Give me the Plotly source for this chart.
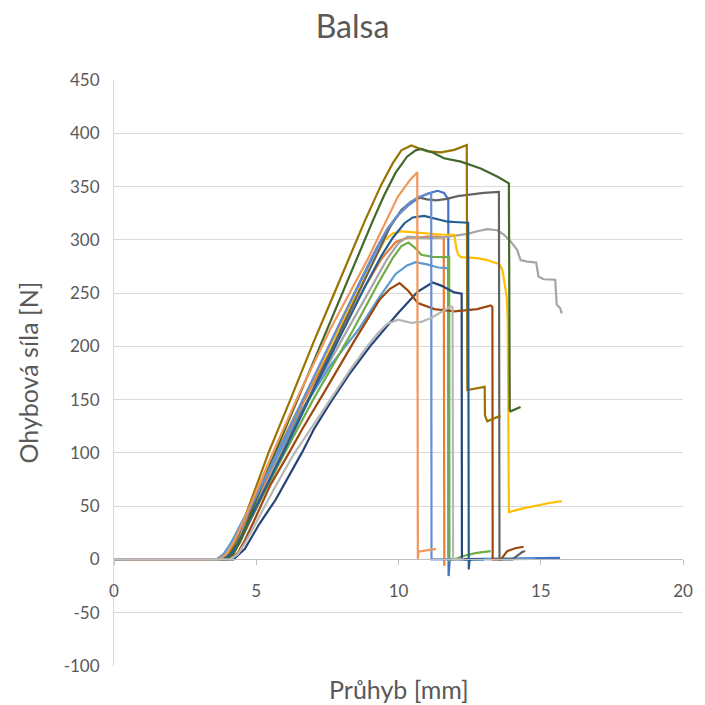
import plotly.graph_objects as go

# ---------------- data ----------------
x_s01 = [0, 3.75, 4.0, 4.25, 4.7, 5.8, 7.0, 8.0, 8.8, 9.3, 9.63, 9.98, 10.33, 10.68, 11.03, 11.38, 11.6, 11.75, 11.76, 11.8, 13.0, 14.5, 15.68]
y_s01 = [0, 0, 5, 15, 40, 100, 168, 225, 268, 295, 311, 323, 332, 339, 343.5, 346, 344, 338, -15.6, 0, 0.5, 1, 1.5]

x_s02 = [0, 3.75, 4.0, 4.25, 4.7, 5.5, 6.5, 7.3, 8.0, 8.8, 9.4, 9.9, 10.33, 10.7, 11.03, 11.4, 11.59, 11.61]
y_s02 = [0, 0, 5, 15, 40, 82, 140, 180, 215.6, 255, 282, 298, 302, 302, 303, 303, 302, -6]

x_s03 = [0, 3.8, 4.05, 4.3, 4.8, 5.6, 6.5, 7.4, 8.2, 9.0, 9.6, 10.0, 10.33, 10.7, 11.03, 11.5, 11.96, 12.43, 12.77, 13.12, 13.47, 13.7, 13.94, 14.17, 14.29, 14.52, 14.84, 14.92, 15.1, 15.51, 15.56, 15.68, 15.74]
y_s03 = [0, 0, 5, 15, 40, 85, 135, 177, 215.6, 254, 282, 297, 303, 302, 301.5, 302, 303.7, 305.6, 308, 310, 309, 305, 298.5, 290.6, 281, 279.6, 278.7, 265.6, 263, 262.5, 239, 236, 231]

x_s04 = [0, 3.7, 3.95, 4.2, 4.6, 5.3, 6.3, 7.0, 7.89, 8.7, 9.2, 9.52, 9.8, 10.1, 10.5, 11.0, 11.5, 11.96, 12.04, 12.1, 12.2, 12.77, 13.12, 13.36, 13.53, 13.65, 13.7, 13.8, 13.84, 13.87, 13.88, 14.3, 14.8, 15.3, 15.74]
y_s04 = [0, 0, 5, 14, 38, 80, 132, 169, 215.6, 258, 284, 300, 306, 308, 307, 306, 305, 304.7, 291, 286, 283.7, 282.8, 281, 278.7, 277.5, 272, 262.5, 247, 225, 45, 44.4, 47.5, 50.5, 53, 54.7]

x_s05 = [0, 3.6, 3.85, 4.1, 4.55, 5.5, 6.6, 7.6, 8.59, 9.3, 9.9, 10.3, 10.6, 11.0, 11.4, 11.67, 11.75, 11.76, 13.0, 14.8]
y_s05 = [0, 0, 5, 15, 38, 85, 140, 182, 215.6, 245, 268, 276, 279, 277, 274, 273.4, 273, 0, 0, 0.5]

x_s06 = [0, 3.9, 4.15, 4.4, 4.85, 5.9, 7.0, 8.41, 9.3, 9.8, 10.1, 10.35, 10.6, 10.8, 11.2, 11.78, 11.79, 11.85, 12.0, 12.25, 12.7, 13.24]
y_s06 = [0, 0, 5, 15, 40, 95, 150, 215.6, 260, 283, 294, 297.5, 292, 286, 284, 283.7, -2, 0, 0.5, 3, 6, 7.8]

x_s07 = [0, 4.2, 4.6, 5.1, 5.68, 6.6, 7.02, 7.6, 8.3, 9.0, 9.98, 10.68, 11.2, 11.5, 11.96, 12.22, 12.23, 12.6]
y_s07 = [0, 0, 10, 33, 56, 100, 122, 147, 175, 200, 231, 251.5, 260, 257, 250.6, 249.4, 0, 0]

x_s08 = [0, 4.1, 4.35, 4.6, 4.9, 5.5, 6.15, 6.61, 7.5, 8.4, 9.34, 9.7, 10.04, 10.35, 10.68, 11.26, 11.96, 12.77, 13.24, 13.3, 13.31, 13.6, 13.82, 14.1, 14.4]
y_s08 = [0, 0, 6, 18, 35, 70, 100, 122, 162, 203, 244, 254, 259.4, 252, 240.6, 235, 232.8, 235, 238.4, 237, 0, 0, 7.8, 10.5, 11.9]

x_s09 = [0, 3.9, 4.15, 4.4, 4.85, 5.9, 7.0, 8.0, 8.8, 9.3, 9.7, 10.1, 10.45, 10.75, 11.0, 11.32, 11.7, 12.08, 12.6, 13.0, 13.53, 13.55, 14.0, 14.35, 14.45]
y_s09 = [0, 0, 5, 15, 40, 98, 160, 217, 262, 290, 312, 328, 336, 339.5, 338, 337, 338.5, 341, 343, 344, 345, 0, 0, 7, 8]

x_s10 = [0, 3.8, 4.05, 4.3, 4.77, 5.43, 6.2, 7.0, 7.65, 8.24, 8.82, 9.4, 9.8, 10.1, 10.45, 10.8, 11.03, 11.5, 11.96, 12.4, 12.42, 13.03, 13.04, 13.12, 13.3, 13.59]
y_s10 = [0, 0, 5, 17, 52, 100, 150, 203, 244, 281, 318, 352, 372, 384, 388.5, 385, 383, 382, 384.4, 389, 159, 162, 135, 129.7, 132, 135]

x_s11 = [0, 3.85, 4.1, 4.35, 4.8, 5.95, 7.0, 8.0, 8.8, 9.4, 9.8, 10.21, 10.5, 10.9, 11.3, 11.73, 12.1, 12.45, 12.47, 12.5, 13.0]
y_s11 = [0, 0, 5, 15, 40, 100, 158, 212, 255, 285, 302, 315.6, 321, 322.5, 320, 317, 316.5, 316, -9.4, 0, 0]

x_s12 = [0, 3.95, 4.2, 4.45, 4.8, 5.5, 6.5, 7.48, 8.3, 9.11, 9.5, 9.9, 10.3, 10.6, 10.8, 11.2, 11.6, 12.19, 12.89, 13.5, 13.88, 13.91, 13.94, 14.29]
y_s12 = [0, 0, 5, 18, 43, 90, 153, 215.6, 267, 318.75, 342, 363, 378, 384, 385.3, 382, 376.5, 373.4, 367, 359, 353, 140, 139, 143]

x_s13 = [0, 3.7, 3.95, 4.2, 4.65, 5.7, 6.9, 7.9, 8.7, 9.2, 9.6, 9.98, 10.33, 10.68, 11.0, 11.15, 11.16, 11.5, 11.9]
y_s13 = [0, 0, 5, 15, 40, 98, 165, 221, 264, 291, 310, 323, 333, 340, 343, 344, 0, 0, 0]

x_s14 = [0, 3.7, 3.95, 4.2, 4.7, 5.5, 6.5, 7.59, 8.94, 9.58, 9.98, 10.4, 10.66, 10.68, 10.7, 11.32]
y_s14 = [0, 0, 5, 16, 45, 95, 155, 215.6, 283, 318.75, 340.6, 356, 363.4, 0, 7.2, 10]

x_s15 = [0, 4.1, 4.35, 4.6, 5.0, 5.6, 6.3, 6.9, 7.6, 8.3, 8.9, 9.28, 9.6, 9.98, 10.45, 10.8, 11.15, 11.5, 11.84, 11.9, 11.92, 12.3]
y_s15 = [0, 0, 5, 15, 35, 65, 98, 122, 150, 178, 200, 212.5, 221, 225, 222, 223, 226.6, 232, 237.5, 237, 0, 0]

series_x = [x_s01, x_s02, x_s03, x_s04, x_s05, x_s06, x_s07, x_s08,
            x_s09, x_s10, x_s11, x_s12, x_s13, x_s14, x_s15]
series_y = [y_s01, y_s02, y_s03, y_s04, y_s05, y_s06, y_s07, y_s08,
            y_s09, y_s10, y_s11, y_s12, y_s13, y_s14, y_s15]

colors = ["#4472C4", "#ED7D31", "#A5A5A5", "#FFC000", "#5B9BD5", "#70AD47",
          "#264478", "#9E480E", "#636363", "#997300", "#255E91", "#43682B",
          "#698ED0", "#F1975A", "#B7B7B7"]

y_ticks = [-100, -50, 0, 50, 100, 150, 200, 250, 300, 350, 400, 450]
y_tick_text = ["-100", "-50", "0", "50", "100", "150", "200", "250", "300", "350", "400", "450"]
x_ticks = [0, 5, 10, 15, 20]

title_text = "Balsa"
x_title = "Průhyb [mm]"
y_title = "Ohybová síla [N]"

# ---------------- figure ----------------
FONT = "Lato, 'Open Sans', sans-serif"
fig = go.Figure()
for xs, ys, c in zip(series_x, series_y, colors):
    fig.add_trace(go.Scatter(x=xs, y=ys, mode="lines",
                             line=dict(color=c, width=2.2), hoverinfo="skip"))

y_min, y_max = -100, 450
fig.update_layout(
    width=705, height=705,
    margin=dict(l=114, r=18, t=80, b=39),
    paper_bgcolor="white", plot_bgcolor="white",
    showlegend=False,
    font=dict(family=FONT, color="#595959"),
    title=dict(text=title_text, x=0.5, xanchor="center", y=0.962, yanchor="middle",
               yref="container", font=dict(size=32, color="#595959", family=FONT)),
    xaxis=dict(range=[0, 20], tickvals=x_ticks, showgrid=False, zeroline=False,
               showline=True, linecolor="#BFBFBF", linewidth=1,
               ticks="outside", ticklen=5, tickcolor="#BFBFBF",
               anchor="free", position=(0 - y_min) / (y_max - y_min),
               tickfont=dict(size=17, color="#595959"), ticklabelstandoff=11),
    yaxis=dict(range=[y_min, y_max], tickvals=y_ticks, ticktext=y_tick_text,
               showgrid=True, gridcolor="#D9D9D9", gridwidth=1, zeroline=False,
               showline=True, linecolor="#D9D9D9", linewidth=1,
               ticks="", tickfont=dict(size=17, color="#595959"), ticklabelstandoff=10),
    annotations=[
        dict(text=x_title, xref="paper", yref="paper", x=0.5, y=-0.04,
             xanchor="center", yanchor="middle", showarrow=False,
             font=dict(size=25, color="#595959", family=FONT)),
        dict(text=y_title, xref="paper", yref="paper", x=-0.152, y=0.5,
             xanchor="center", yanchor="middle", textangle=-90, showarrow=False,
             font=dict(size=25, color="#595959", family=FONT)),
    ],
)

fig.write_html("out.html", config={"displayModeBar": False},
               post_script="document.body.style.margin='0px';")
